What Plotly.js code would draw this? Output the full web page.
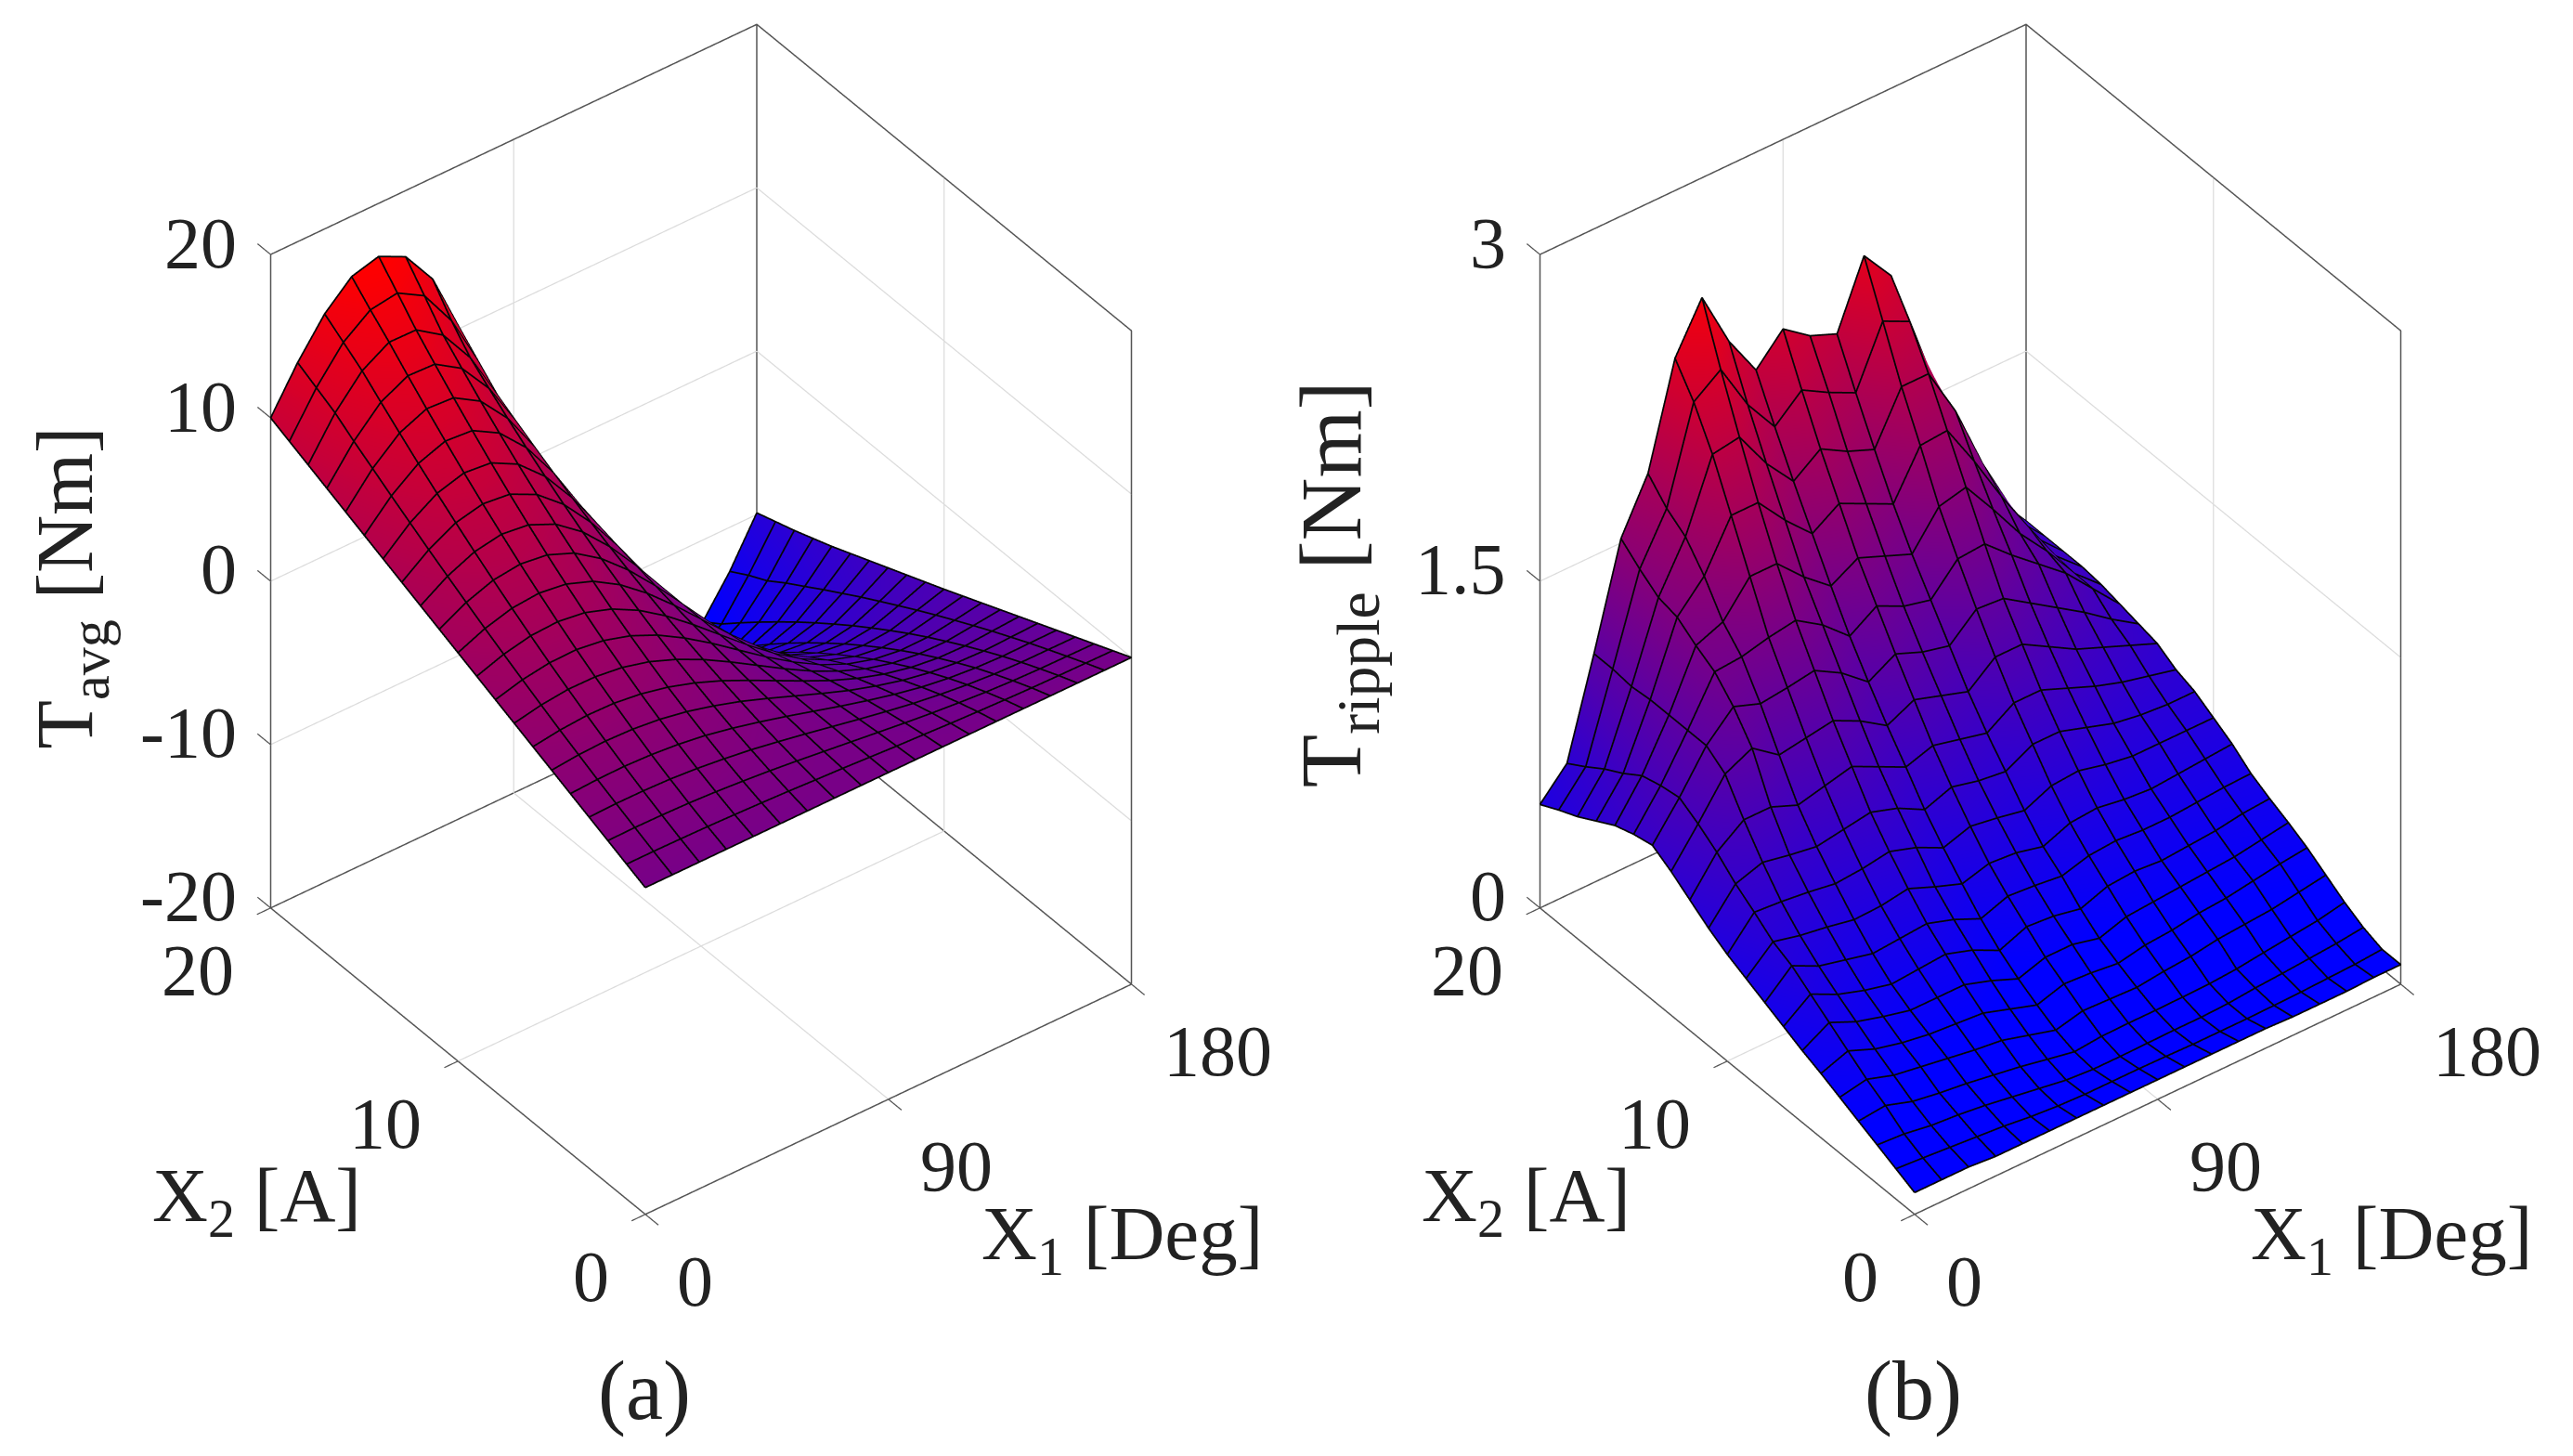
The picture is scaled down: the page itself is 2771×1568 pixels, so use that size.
<!DOCTYPE html>
<html><head><meta charset="utf-8">
<script src="https://cdn.plot.ly/plotly-3.0.1.min.js"></script>
<style>html,body{margin:0;padding:0;background:#fff}#c{width:2771px;height:1568px}</style></head>
<body><div id="c"></div>
<script>
const x1Vals=[0,10,20,30,40,50,60,70,80,90,100,110,120,130,140,150,160,170,180];
const x2Vals=[0,1,2,3,4,5,6,7,8,9,10,11,12,13,14,15,16,17,18,19,20];
const tAvg=[
[0,0,0,0,0,0,0,0,0,0,0,0,0,0,0,0,0,0,0],
[.5,.5,.48,.45,.4,.34,.27,.18,.1,0,-.1,-.18,-.27,-.34,-.4,-.45,-.48,-.5,-.52],
[1,1.02,1,.95,.86,.73,.58,.4,.2,0,-.2,-.4,-.58,-.73,-.86,-.95,-1,-1.02,-1.04],
[1.5,1.55,1.54,1.48,1.35,1.16,.93,.64,.33,0,-.33,-.64,-.93,-1.16,-1.35,-1.48,-1.54,-1.55,-1.56],
[2,2.09,2.11,2.04,1.89,1.65,1.31,.91,.47,0,-.47,-.91,-1.31,-1.65,-1.89,-2.04,-2.11,-2.09,-2.08],
[2.5,2.66,2.72,2.66,2.48,2.17,1.74,1.23,.63,0,-.63,-1.23,-1.74,-2.17,-2.48,-2.66,-2.72,-2.66,-2.6],
[3,3.23,3.35,3.31,3.1,2.73,2.21,1.56,.8,0,-.8,-1.56,-2.21,-2.73,-3.1,-3.31,-3.35,-3.23,-3.12],
[3.5,3.83,4.01,3.99,3.78,3.35,2.71,1.92,.99,0,-.99,-1.92,-2.71,-3.35,-3.78,-3.99,-4.01,-3.83,-3.64],
[4,4.44,4.69,4.72,4.49,4,3.26,2.3,1.2,0,-1.2,-2.3,-3.26,-4,-4.49,-4.72,-4.69,-4.44,-4.16],
[4.5,5.06,5.41,5.49,5.26,4.7,3.84,2.72,1.41,0,-1.41,-2.72,-3.84,-4.7,-5.26,-5.49,-5.41,-5.06,-4.68],
[5,5.7,6.16,6.3,6.07,5.46,4.47,3.17,1.65,0,-1.65,-3.17,-4.47,-5.46,-6.07,-6.3,-6.16,-5.7,-5.2],
[5.5,6.36,6.94,7.14,6.92,6.25,5.13,3.65,1.9,0,-1.9,-3.65,-5.13,-6.25,-6.92,-7.14,-6.94,-6.36,-5.7],
[6,7.03,7.74,8.03,7.82,7.08,5.83,4.15,2.16,0,-2.16,-4.15,-5.83,-7.08,-7.82,-8.03,-7.74,-7.03,-6.2],
[6.5,7.71,8.58,8.95,8.76,7.96,6.57,4.69,2.44,0,-2.44,-4.69,-6.57,-7.96,-8.76,-8.95,-8.58,-7.71,-6.7],
[7,8.42,9.44,9.91,9.74,8.88,7.35,5.25,2.74,0,-2.74,-5.25,-7.35,-8.88,-9.74,-9.91,-9.44,-8.42,-7.2],
[7.5,9.13,10.33,10.92,10.78,9.85,8.17,5.85,3.06,0,-3.06,-5.85,-8.17,-9.85,-10.78,-10.92,-10.33,-9.13,-7.7],
[8,9.87,11.26,11.96,11.85,10.86,9.03,6.48,3.38,0,-3.38,-6.48,-9.03,-10.86,-11.85,-11.96,-11.26,-9.87,-8.2],
[8.5,10.6,12.21,13.04,12.97,11.93,9.93,7.13,3.72,0,-3.72,-7.13,-9.93,-11.93,-12.97,-13.04,-12.21,-10.6,-8.65],
[9,11.4,13.19,14.16,14.13,13.03,10.87,7.81,4.09,0,-4.09,-7.81,-10.87,-13.03,-14.13,-14.16,-13.19,-11.4,-9.1],
[9.5,12,14,15.2,15.45,14.5,12.2,8.9,4.7,0,-4.45,-8.52,-11.85,-14.18,-15.35,-15.33,-14.2,-12,-9.5],
[10,12.6,14.8,16.3,16.75,15.95,13.8,10,5.4,0,-4.85,-9.26,-12.86,-15.37,-16.6,-16.52,-15,-12.7,-9.9]
];
const tRipple=[
[.10,.10,.10,.09,.09,.09,.09,.09,.09,.09,.09,.09,.09,.09,.085,.085,.085,.09,.09],
[.139,.13,.12,.11,.10,.085,.075,.07,.07,.07,.068,.065,.065,.065,.067,.07,.075,.08,.09],
[.178,.17,.15,.14,.125,.105,.085,.065,.056,.056,.058,.06,.06,.065,.077,.085,.095,.105,.12],
[.217,.23,.19,.17,.155,.135,.115,.09,.066,.078,.08,.08,.082,.085,.094,.11,.125,.14,.165],
[.256,.28,.24,.22,.20,.18,.165,.13,.095,.125,.12,.115,.13,.14,.16,.17,.18,.20,.22],
[.295,.34,.29,.26,.24,.23,.22,.18,.14,.178,.17,.155,.18,.19,.21,.22,.24,.26,.275],
[.33,.40,.345,.31,.28,.28,.28,.24,.19,.23,.23,.20,.24,.25,.26,.27,.28,.30,.32],
[.37,.46,.40,.36,.33,.34,.35,.31,.25,.30,.29,.265,.31,.32,.31,.32,.33,.35,.36],
[.41,.52,.46,.43,.40,.41,.42,.38,.325,.37,.36,.345,.38,.39,.38,.38,.39,.40,.405],
[.45,.56,.53,.51,.485,.49,.51,.46,.415,.45,.44,.41,.46,.47,.45,.44,.45,.46,.47],
[.49,.625,.615,.60,.58,.59,.61,.57,.51,.55,.53,.505,.56,.57,.54,.52,.52,.52,.52],
[.54,.685,.725,.70,.68,.70,.72,.68,.615,.66,.63,.614,.68,.68,.64,.60,.58,.57,.57],
[.60,.76,.85,.85,.80,.83,.86,.80,.74,.78,.75,.72,.80,.80,.75,.70,.66,.63,.60],
[.66,.82,.99,1.05,.96,.98,1.0,.94,.86,.92,.88,.84,.94,.94,.87,.80,.75,.70,.65],
[.71,.87,1.05,1.17,1.125,1.14,1.16,1.09,.99,1.06,1.01,.98,1.09,1.08,1.0,.92,.84,.75,.67],
[.69,.855,1.05,1.26,1.27,1.30,1.32,1.24,1.13,1.21,1.15,1.12,1.25,1.26,1.15,1.05,.95,.82,.69],
[.66,.83,1.05,1.31,1.36,1.51,1.51,1.39,1.29,1.36,1.31,1.26,1.42,1.45,1.29,1.12,.98,.82,.71],
[.61,.77,1.05,1.37,1.50,1.72,1.72,1.58,1.46,1.54,1.48,1.42,1.63,1.64,1.44,1.22,1.02,.83,.72],
[.56,.72,1.04,1.39,1.61,1.93,1.95,1.77,1.63,1.72,1.65,1.60,1.83,1.83,1.60,1.30,1.05,.84,.72],
[.52,.66,1.05,1.45,1.67,2.10,2.19,1.97,1.81,1.92,1.85,1.79,2.06,2.0,1.63,1.34,1.08,.85,.72],
[.475,.605,1.05,1.52,1.76,2.23,2.45,2.19,2.0,2.13,2.04,1.99,2.29,2.14,1.76,1.38,1.13,.87,.72]
];
const x1Ticks=[0,90,180], x2Ticks=[0,10,20], zTicksA=[-20,-10,0,10,20], zTicksB=[0,1.5,3];
const zLabelsA=['-20','-10','0','10','20'], zLabelsB=['0','1.5','3'];

const FONT='"Liberation Serif","Times New Roman",serif', SIZE=78, TXT='#222';
const VIEW={x:-0.474,y:-0.623,z:0.622};
const ES=3, ASPECT={x:1.074,y:1.099,z:1.415};
const XR=[-8,188], YR=[-1,21];

function seg(pts,color,width,scene){
  const x=[],y=[],z=[];
  pts.forEach(p=>{ if(p){x.push(p[0]);y.push(p[1]);z.push(p[2]);} else {x.push(null);y.push(null);z.push(null);} });
  return {type:'scatter3d',mode:'lines',x,y,z,scene,hoverinfo:'skip',showlegend:false,connectgaps:false,line:{color,width}};
}
function panel(rows,zTicks,zLabels,scene,cmin,cmax,cs,ZR){
  const z0=zTicks[0], z1=zTicks[zTicks.length-1];
  const xa=x1Vals[0], xb=x1Vals[x1Vals.length-1], ya=x2Vals[0], yb=x2Vals[x2Vals.length-1];
  const traces=[];
  const g=[];
  x1Ticks.slice(1,-1).forEach(t=>{g.push([t,yb,z0],[t,yb,z1],null,[t,ya,z0],[t,yb,z0],null);});
  x2Ticks.slice(1,-1).forEach(t=>{g.push([xb,t,z0],[xb,t,z1],null,[xa,t,z0],[xb,t,z0],null);});
  zTicks.slice(1,-1).forEach(t=>{g.push([xa,yb,t],[xb,yb,t],[xb,ya,t],null);});
  traces.push(seg(g,'#dcdcdc',2.5,scene));
  const b=[[xa,yb,z1],[xb,yb,z1],[xb,ya,z1],[xb,ya,z0],[xa,ya,z0],[xa,yb,z0],[xa,yb,z1],null,
           [xb,yb,z1],[xb,yb,z0],null,[xa,yb,z0],[xb,yb,z0],[xb,ya,z0]];
  traces.push(seg(b,'#555',3,scene));
  const dX=(xb-xa)*0.028, dY=(yb-ya)*0.035;
  const k=[];
  x1Ticks.forEach(t=>k.push([t,ya,z0],[t,ya-dY,z0],null));
  x2Ticks.forEach(t=>k.push([xa,t,z0],[xa-dX,t,z0],null));
  zTicks.forEach(t=>k.push([xa,yb,t],[xa,yb+dY,t],null));
  traces.push(seg(k,'#555',2.5,scene));
  traces.push({type:'surface',scene,x:x1Vals,y:x2Vals,z:rows,cmin,cmax,colorscale:cs,showscale:false,hoverinfo:'skip',
    lighting:{ambient:1,diffuse:0,specular:0,roughness:1,fresnel:0},
    contours:{x:{show:false,highlight:false},y:{show:false,highlight:false},z:{show:false,highlight:false}}});
  // mesh wires: the same grid points, nudged along the line of sight so they sit on top of the surface
  const D=0.012;
  const ox=VIEW.x*D*(XR[1]-XR[0])/(2*ASPECT.x), oy=VIEW.y*D*(YR[1]-YR[0])/(2*ASPECT.y), oz=VIEW.z*D*(ZR[1]-ZR[0])/(2*ASPECT.z);
  const m=[];
  rows.forEach((r,j)=>{ r.forEach((v,i)=>m.push([x1Vals[i]+ox,x2Vals[j]+oy,v+oz])); m.push(null); });
  x1Vals.forEach((xv,i)=>{ rows.forEach((r,j)=>m.push([xv+ox,x2Vals[j]+oy,r[i]+oz])); m.push(null); });
  traces.push(seg(m,'#050505',3.5,scene));
  const ann=[];
  const T=(x,y,z,text,xs,ys,anchor,size)=>ann.push({x,y,z,text,showarrow:false,xshift:xs,yshift:ys,xanchor:anchor,yanchor:'middle',
      font:{family:FONT,size:size||SIZE,color:TXT}});
  zTicks.forEach((t,i)=>T(xa,yb,t,zLabels[i],-34,13,'right'));
  x1Ticks.forEach(t=>T(t,ya,z0,String(t),32,-72,'left'));
  x2Ticks.forEach(t=>T(xa,t,z0,String(t),-37,-67,'right'));
  T(xa+120,ya,z0,'X<sub>1</sub> [Deg]',164,-191,'center',83);
  T(xa,ya+7,z0,'X<sub>2</sub> [A]',-277,-101,'center',83);
  return {traces,ann};
}
const csA=[[0,'rgb(0,140,255)'],[0.06,'rgb(0,0,255)'],[1,'rgb(255,0,0)']];
const csB=[[0,'rgb(0,0,255)'],[1,'rgb(255,0,0)']];
const pad=(a,b)=>{const d=(b-a)/40;return [a-d,b+d];};
const ZRA=pad(-20,20), ZRB=pad(0,3);
const A=panel(tAvg,zTicksA,zLabelsA,'scene',-16.6,16.6,csA,ZRA);
const B=panel(tRipple,zTicksB,zLabelsB,'scene2',0.2,2.55,csB,ZRB);

function sceneCfg(dom,zr,ann){
  const ax=(r)=>({range:r,visible:false,showgrid:false,zeroline:false,showline:false,showticklabels:false,showspikes:false,showbackground:false,title:{text:''}});
  return {domain:dom,aspectmode:'manual',aspectratio:ASPECT,
    camera:{eye:{x:VIEW.x*ES,y:VIEW.y*ES,z:VIEW.z*ES},up:{x:0,y:0,z:1},center:{x:0,y:0,z:0},projection:{type:'orthographic'}},
    xaxis:ax(XR),yaxis:ax(YR),zaxis:ax(zr),bgcolor:'#fff',dragmode:false,annotations:ann};
}
const W=2771,H=1568;
const cap=(x,y,text,size,angle)=>({xref:'paper',yref:'paper',x:x*1.767/W,y:1-y*1.767/H,text,showarrow:false,xanchor:'center',yanchor:'middle',textangle:angle||0,font:{family:FONT,size,color:TXT}});
const layout={width:W,height:H,margin:{l:0,r:0,t:0,b:0},paper_bgcolor:'#fff',showlegend:false,
  scene:sceneCfg({x:[115/W,1395/W],y:[234/H,1]},ZRA,A.ann),
  scene2:sceneCfg({x:[1482/W,2762/W],y:[234/H,1]},ZRB,B.ann),
  annotations:[
   cap(393,848,'(a)',90),cap(1166,848,'(b)',90),
   cap(43,358,'T<sub>avg</sub> [Nm]',86,-90),cap(815,356,'T<sub>ripple</sub> [Nm]',94,-90)
  ]};
Plotly.newPlot('c',A.traces.concat(B.traces),layout,{displayModeBar:false});
</script></body></html>
